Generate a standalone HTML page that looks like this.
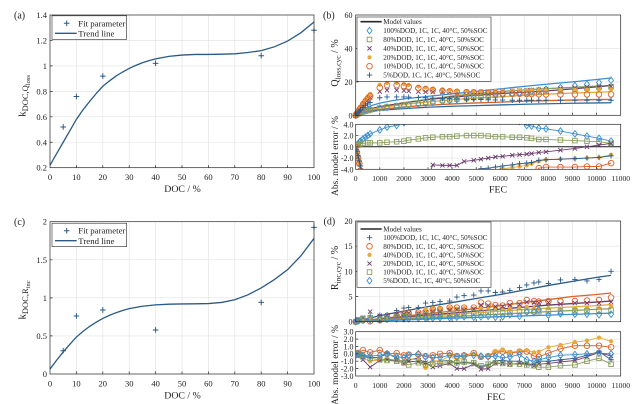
<!DOCTYPE html>
<html><head><meta charset="utf-8"><style>
html,body{margin:0;padding:0;background:#fff;}
svg{display:block;}
text{font-family:"Liberation Serif",serif;fill:#222;}
</style></head><body>
<svg width="640" height="404" viewBox="0 0 640 404" xmlns="http://www.w3.org/2000/svg">
<defs>
<path id="s-di" d="M0-3.3L2.5 0 0 3.3-2.5 0Z" fill="none" stroke="#3a8fd0" stroke-width=".9"/>
<rect id="s-sq" x="-2.3" y="-2.3" width="4.6" height="4.6" fill="none" stroke="#8a9e5e" stroke-width=".9"/>
<path id="s-x" d="M-2.1-2.1L2.1 2.1M-2.1 2.1L2.1-2.1" stroke="#6b3d6e" stroke-width=".9"/>
<circle id="s-dt" r="2.1" fill="#eba83a"/>
<circle id="s-ci" r="2.8" fill="none" stroke="#d9622b" stroke-width=".9"/>
<path id="s-pl" d="M-2.7 0H2.7M0-2.7V2.7" stroke="#2b5b88" stroke-width=".9"/>
<path id="s-pa" d="M-2.8 0H2.8M0-2.8V2.8" stroke="#2a5a85" stroke-width="1"/>

<marker id="a-pa" markerUnits="userSpaceOnUse" overflow="visible" markerWidth="1" markerHeight="1"><g transform="scale(.378788,-.0078585)"><use href="#s-pa"/></g></marker>
<marker id="c-pa" markerUnits="userSpaceOnUse" overflow="visible" markerWidth="1" markerHeight="1"><g transform="scale(.378788,-.013132)"><use href="#s-pa"/></g></marker>

<marker id="bu-di" markerUnits="userSpaceOnUse" overflow="visible" markerWidth="1" markerHeight="1"><g transform="scale(.041511,-.598086)"><use href="#s-di"/></g></marker>
<marker id="bu-sq" markerUnits="userSpaceOnUse" overflow="visible" markerWidth="1" markerHeight="1"><g transform="scale(.041511,-.598086)"><use href="#s-sq"/></g></marker>
<marker id="bu-x" markerUnits="userSpaceOnUse" overflow="visible" markerWidth="1" markerHeight="1"><g transform="scale(.041511,-.598086)"><use href="#s-x"/></g></marker>
<marker id="bu-dt" markerUnits="userSpaceOnUse" overflow="visible" markerWidth="1" markerHeight="1"><g transform="scale(.041511,-.598086)"><use href="#s-dt"/></g></marker>
<marker id="bu-ci" markerUnits="userSpaceOnUse" overflow="visible" markerWidth="1" markerHeight="1"><g transform="scale(.041511,-.598086)"><use href="#s-ci"/></g></marker>
<marker id="bu-pl" markerUnits="userSpaceOnUse" overflow="visible" markerWidth="1" markerHeight="1"><g transform="scale(.041511,-.598086)"><use href="#s-pl"/></g></marker>

<marker id="bl-di" markerUnits="userSpaceOnUse" overflow="visible" markerWidth="1" markerHeight="1"><g transform="scale(.041511,-.177778)"><use href="#s-di"/></g></marker>
<marker id="bl-sq" markerUnits="userSpaceOnUse" overflow="visible" markerWidth="1" markerHeight="1"><g transform="scale(.041511,-.177778)"><use href="#s-sq"/></g></marker>
<marker id="bl-x" markerUnits="userSpaceOnUse" overflow="visible" markerWidth="1" markerHeight="1"><g transform="scale(.041511,-.177778)"><use href="#s-x"/></g></marker>
<marker id="bl-dt" markerUnits="userSpaceOnUse" overflow="visible" markerWidth="1" markerHeight="1"><g transform="scale(.041511,-.177778)"><use href="#s-dt"/></g></marker>
<marker id="bl-ci" markerUnits="userSpaceOnUse" overflow="visible" markerWidth="1" markerHeight="1"><g transform="scale(.041511,-.177778)"><use href="#s-ci"/></g></marker>
<marker id="bl-pl" markerUnits="userSpaceOnUse" overflow="visible" markerWidth="1" markerHeight="1"><g transform="scale(.041511,-.177778)"><use href="#s-pl"/></g></marker>

<marker id="du-di" markerUnits="userSpaceOnUse" overflow="visible" markerWidth="1" markerHeight="1"><g transform="scale(.041511,-.19861)"><use href="#s-di"/></g></marker>
<marker id="du-sq" markerUnits="userSpaceOnUse" overflow="visible" markerWidth="1" markerHeight="1"><g transform="scale(.041511,-.19861)"><use href="#s-sq"/></g></marker>
<marker id="du-x" markerUnits="userSpaceOnUse" overflow="visible" markerWidth="1" markerHeight="1"><g transform="scale(.041511,-.19861)"><use href="#s-x"/></g></marker>
<marker id="du-dt" markerUnits="userSpaceOnUse" overflow="visible" markerWidth="1" markerHeight="1"><g transform="scale(.041511,-.19861)"><use href="#s-dt"/></g></marker>
<marker id="du-ci" markerUnits="userSpaceOnUse" overflow="visible" markerWidth="1" markerHeight="1"><g transform="scale(.041511,-.19861)"><use href="#s-ci"/></g></marker>
<marker id="du-pl" markerUnits="userSpaceOnUse" overflow="visible" markerWidth="1" markerHeight="1"><g transform="scale(.041511,-.19861)"><use href="#s-pl"/></g></marker>

<marker id="dl-di" markerUnits="userSpaceOnUse" overflow="visible" markerWidth="1" markerHeight="1"><g transform="scale(.041511,-.135446)"><use href="#s-di"/></g></marker>
<marker id="dl-sq" markerUnits="userSpaceOnUse" overflow="visible" markerWidth="1" markerHeight="1"><g transform="scale(.041511,-.135446)"><use href="#s-sq"/></g></marker>
<marker id="dl-x" markerUnits="userSpaceOnUse" overflow="visible" markerWidth="1" markerHeight="1"><g transform="scale(.041511,-.135446)"><use href="#s-x"/></g></marker>
<marker id="dl-dt" markerUnits="userSpaceOnUse" overflow="visible" markerWidth="1" markerHeight="1"><g transform="scale(.041511,-.135446)"><use href="#s-dt"/></g></marker>
<marker id="dl-ci" markerUnits="userSpaceOnUse" overflow="visible" markerWidth="1" markerHeight="1"><g transform="scale(.041511,-.135446)"><use href="#s-ci"/></g></marker>
<marker id="dl-pl" markerUnits="userSpaceOnUse" overflow="visible" markerWidth="1" markerHeight="1"><g transform="scale(.041511,-.135446)"><use href="#s-pl"/></g></marker>

<clipPath id="cbl"><rect x="355.7" y="124.3" width="265" height="45"/></clipPath>
<clipPath id="cdl"><rect x="355.7" y="331.7" width="265" height="44.3"/></clipPath>
</defs>

<!-- ================= GRIDS ================= -->
<g stroke="#e2e2e2" stroke-width=".6" fill="none">
<path d="M76.4 15V167.7M102.8 15V167.7M129.2 15V167.7M155.6 15V167.7M182 15V167.7M208.4 15V167.7M234.8 15V167.7M261.2 15V167.7M287.6 15V167.7M50 142.25H314M50 116.8H314M50 91.35H314M50 65.9H314M50 40.45H314"/>
<path d="M76.4 221.7V374M102.8 221.7V374M129.2 221.7V374M155.6 221.7V374M182 221.7V374M208.4 221.7V374M234.8 221.7V374M261.2 221.7V374M287.6 221.7V374M50 335.9H314M50 297.85H314M50 259.8H314"/>
<path d="M379.8 15V115.3M403.9 15V115.3M428 15V115.3M452.1 15V115.3M476.2 15V115.3M500.2 15V115.3M524.3 15V115.3M548.4 15V115.3M572.5 15V115.3M596.6 15V115.3M355.7 81.9H620.7M355.7 48.4H620.7"/>
<path d="M379.8 124.3V169.3M403.9 124.3V169.3M428 124.3V169.3M452.1 124.3V169.3M476.2 124.3V169.3M500.2 124.3V169.3M524.3 124.3V169.3M548.4 124.3V169.3M572.5 124.3V169.3M596.6 124.3V169.3M355.7 135.55H620.7M355.7 158.05H620.7"/>
<path d="M379.8 221V321.7M403.9 221V321.7M428 221V321.7M452.1 221V321.7M476.2 221V321.7M500.2 221V321.7M524.3 221V321.7M548.4 221V321.7M572.5 221V321.7M596.6 221V321.7M355.7 296.5H620.7M355.7 271.35H620.7M355.7 246.2H620.7"/>
<path d="M379.8 331.7V376M403.9 331.7V376M428 331.7V376M452.1 331.7V376M476.2 331.7V376M500.2 331.7V376M524.3 331.7V376M548.4 331.7V376M572.5 331.7V376M596.6 331.7V376M355.7 339.1H620.7M355.7 346.5H620.7M355.7 353.85H620.7M355.7 361.2H620.7M355.7 368.6H620.7"/>
</g>

<!-- ================= PANEL (a) ================= -->
<g transform="translate(50,193.15) scale(2.64,-127.25)">
<polyline fill="none" stroke="#2a5a85" stroke-width="1.3" vector-effect="non-scaling-stroke" points="0,0.22 2.5,0.31 5,0.40 7.5,0.49 10,0.58 12.5,0.655 15,0.72 17.5,0.783 20,0.84 22.5,0.882 25,0.92 27.5,0.952 30,0.98 32.5,1.004 35,1.025 37.5,1.041 40,1.055 45,1.075 50,1.085 55,1.09 60,1.09 65,1.092 70,1.095 75,1.105 80,1.12 85,1.15 90,1.195 95,1.26 100,1.345"/>
<polyline fill="none" stroke="none" marker-start="url(#a-pa)" marker-mid="url(#a-pa)" marker-end="url(#a-pa)" points="5,0.52 10,0.76 20,0.92 40,1.02 80,1.08 100,1.28"/>
</g>

<!-- ================= PANEL (c) ================= -->
<g transform="translate(50,374) scale(2.64,-76.15)">
<polyline fill="none" stroke="#2a5a85" stroke-width="1.3" vector-effect="non-scaling-stroke" points="0,0.065 2.5,0.18 5,0.29 7.5,0.39 10,0.485 12.5,0.56 15,0.625 17.5,0.68 20,0.73 22.5,0.77 25,0.805 27.5,0.834 30,0.858 35,0.89 40,0.908 45,0.917 50,0.92 55,0.922 60,0.925 65,0.94 70,0.975 75,1.04 80,1.13 85,1.24 90,1.37 95,1.55 100,1.78"/>
<polyline fill="none" stroke="none" marker-start="url(#c-pa)" marker-mid="url(#c-pa)" marker-end="url(#c-pa)" points="5,0.306 10,0.762 20,0.84 40,0.578 80,0.94 100,1.926"/>
</g>

<!-- ================= PANEL (b) upper ================= -->
<g transform="translate(355.7,115.3) scale(24.09,-1.672)">
<g fill="none" stroke-width="1.3">
<polyline stroke="#3a8fd0" vector-effect="non-scaling-stroke" points="0,0 0.1,1.8 0.2,2.8 0.3,3.6 0.5,5 0.7,6 1,7.3 1.5,8.7 2,9.8 3,11.3 4,12.8 5,14.3 6,15.8 7,17.3 8,18.7 9,20 10,21.4 10.6,22.3"/>
<polyline stroke="#8a9e5e" vector-effect="non-scaling-stroke" points="0,0 0.1,1.2 0.2,1.9 0.5,3.5 1,5 2,7.3 3,9.5 4,11.5 5,13 6,14.2 7,15.2 8,16 9,16.7 10,17.4 10.6,17.7"/>
<polyline stroke="#6b3d6e" vector-effect="non-scaling-stroke" points="0,0 0.1,1.2 0.2,1.9 0.5,3.5 1,5.2 2,7.5 3,9.5 4,10.9 5,12 6,13 7,13.8 8,14.7 9,15.8 10,17 10.6,17.8"/>
<polyline stroke="#eba83a" vector-effect="non-scaling-stroke" points="0,0 0.1,1.1 0.2,1.7 0.5,3 1,4.5 2,6.5 3,8 4,9.3 5,10.3 6,11.1 7,11.9 8,12.7 9,13.3 10,13.8 10.6,14.1"/>
<polyline stroke="#d9622b" vector-effect="non-scaling-stroke" points="0,0 0.1,0.9 0.2,1.4 0.5,2.4 1,3.5 2,5 3,6 4,6.8 5,7.4 6,7.9 7,8.4 8,8.8 9,9.1 10,9.4 10.6,9.5"/>
<polyline stroke="#2b6aa3" vector-effect="non-scaling-stroke" points="0,0 0.1,0.8 0.2,1.2 0.5,2 1,3 2,4 3,4.8 4,5.4 5,5.8 6,6.2 7,6.6 8,6.9 9,7.2 10,7.4 10.6,7.5"/>
</g>
<g fill="none" stroke="none">
<polyline marker-start="url(#bu-di)" marker-mid="url(#bu-di)" marker-end="url(#bu-di)" points="0,0 0.05,0.8 0.1,1.3 0.15,1.7 0.2,2 0.3,2.4 0.4,2.8 0.5,3.1 0.6,3.4 1,4.3 1.3,4.8 1.7,5.4 2,5.9 2.2,6.2 2.6,6.8 2.9,7.3 3.2,7.8 3.6,8.4 3.9,8.9 4.2,9.4 4.6,10 4.9,10.5 5.2,11 5.5,11.5 5.8,12 6.1,12.5 6.5,13 6.8,13.5 7.1,14 7.3,14.4 7.6,14.9 7.9,15.4 8.5,16.5 9.1,17.7 9.6,18.6 10.1,19.6 10.6,20.9"/>
<polyline marker-start="url(#bu-sq)" marker-mid="url(#bu-sq)" marker-end="url(#bu-sq)" points="0,0 0.05,0.5 0.1,1 0.15,1.3 0.2,1.6 0.3,2.1 0.4,2.5 0.5,2.9 0.6,3.2 1,4.3 1.3,5 1.7,5.7 2,6.3 2.2,6.6 2.6,7.3 2.9,7.8 3.2,8.3 3.6,8.9 3.9,9.3 4.2,9.8 4.6,10.3 4.9,10.7 5.2,11.1 5.5,11.5 5.8,11.9 6.1,12.3 6.5,12.8 6.8,13.1 7.1,13.5 7.3,13.7 7.6,14.1 7.9,14.4 8.5,15 9.1,15.6 9.6,16.1 10.1,16.6 10.6,17.1"/>
<polyline marker-start="url(#bu-x)" marker-mid="url(#bu-x)" marker-end="url(#bu-x)" points="0,0 0.05,1 0.1,2 0.15,3 0.2,4 0.3,5.8 0.4,7.5 0.5,9 0.6,10.5 1,14.2 1.3,15 1.7,15 2,14.8 2.2,14.5 2.6,14.2 2.9,14 3.2,13.9 3.6,13.9 3.9,13.9 4.2,14 4.6,14 4.9,14 5.2,14.1 5.5,14.2 5.8,14.3 6.1,14.4 6.5,14.6 6.8,14.8 7.1,15 7.3,15.1 7.6,15.3 7.9,15.5 8.5,16 9.1,16.4 9.6,16.8 10.1,17.1 10.6,17.3"/>
<polyline marker-start="url(#bu-dt)" marker-mid="url(#bu-dt)" marker-end="url(#bu-dt)" points="0,0 0.05,1.3 0.1,2.6 0.15,3.9 0.2,5.2 0.3,7.5 0.4,9.5 0.5,11.3 0.6,12.8 1,18.3 1.3,19.4 1.7,19.3 2,18.7 2.2,18.2 2.6,17.2 2.9,16.6 3.2,16 3.6,15.5 3.9,15.1 4.2,14.8 4.6,14.6 4.9,14.5 5.2,14.5 5.5,14.5 5.8,14.6 6.1,14.7 6.5,14.8 6.8,14.9 7.1,15 7.3,15 7.6,15.1 7.9,15.1 8.5,15.2 9.1,15.3 9.6,15.4 10.1,15.5 10.6,15.5"/>
<polyline marker-start="url(#bu-ci)" marker-mid="url(#bu-ci)" marker-end="url(#bu-ci)" points="0,0 0.05,1.1 0.1,2.2 0.15,3.3 0.2,4.4 0.3,6.5 0.4,8.3 0.5,10 0.6,11.5 1,16.5 1.3,18 1.7,18 2,17.5 2.2,17 2.6,16.2 2.9,15.6 3.2,15.1 3.6,14.6 3.9,14.3 4.2,14 4.6,13.8 4.9,13.6 5.2,13.4 5.5,13.3 5.8,13.2 6.1,13.1 6.5,13 6.8,12.9 7.1,12.8 7.3,12.7 7.6,12.6 7.9,12.5 8.5,12.5 9.1,12.5 9.6,12.5 10.1,12.5 10.6,12.5"/>
<polyline marker-start="url(#bu-pl)" marker-mid="url(#bu-pl)" marker-end="url(#bu-pl)" points="0,0 0.05,0.9 0.1,1.8 0.15,2.6 0.2,3.3 0.3,4.6 0.4,5.8 0.5,6.8 0.6,7.7 1,10.5 1.3,11 1.7,11 2,11 2.2,10.9 2.6,10.7 2.9,10.5 3.2,10.3 3.6,10.1 3.9,10 4.2,9.8 4.6,9.6 4.9,9.5 5.2,9.4 5.5,9.3 5.8,9.2 6.1,9.1 6.5,9 6.8,9 7.1,9 7.3,9 7.6,9 7.9,9 8.5,9 9.1,9 9.6,9 10.1,9 10.6,9"/>
</g>
</g>

<!-- ================= PANEL (b) lower ================= -->
<line x1="355.7" y1="146.8" x2="620.7" y2="146.8" stroke="#1a1a1a" stroke-width="1"/>
<g clip-path="url(#cbl)">
<g transform="translate(355.7,146.8) scale(24.09,-5.625)" fill="none" stroke-width=".9">
<polyline stroke="#3a8fd0" vector-effect="non-scaling-stroke" marker-start="url(#bl-di)" marker-mid="url(#bl-di)" marker-end="url(#bl-di)" points="0,0 0.05,0.3 0.1,0.6 0.15,0.8 0.2,1 0.3,1.4 0.4,1.7 0.5,2 0.6,2.3 1,3 1.3,3.5 1.7,3.8 2,4.3 2.6,4.8 4,5 6,4.8 6.8,4.5 7.1,3.8 7.3,3.7 7.6,3.3 7.9,3.2 8.5,2.8 9.1,2.3 9.6,1.9 10.1,1.5 10.6,1"/>
<polyline stroke="#8a9e5e" vector-effect="non-scaling-stroke" marker-start="url(#bl-sq)" marker-mid="url(#bl-sq)" marker-end="url(#bl-sq)" points="0,0 0.1,0.3 0.2,0.5 0.3,0.6 0.5,0.7 0.6,0.7 1,0.7 1.3,0.8 1.7,0.9 2,1 2.2,1.2 2.6,1.4 2.9,1.6 3.2,1.7 3.6,1.8 3.9,1.8 4.2,1.9 4.6,2 4.9,2 5.2,2 5.5,1.9 5.8,1.8 6.1,1.8 6.5,1.7 6.8,1.7 7.1,1.6 7.3,1.5 7.6,1.3 7.9,1.3 8.5,1.2 9.1,1.1 9.6,1 10.1,0.9 10.6,0.6"/>
<polyline stroke="#6b3d6e" vector-effect="non-scaling-stroke" marker-start="url(#bl-x)" marker-mid="url(#bl-x)" marker-end="url(#bl-x)" points="0,0 0.05,-0.8 0.1,-1.8 0.15,-3 0.2,-4.2 0.3,-6 0.6,-8 1.3,-9 2.2,-8 2.9,-6.5 3.2,-3.2 3.6,-3.3 3.9,-3.3 4.2,-3.3 4.5,-2.6 4.9,-2.4 5.2,-2.2 5.5,-2 5.8,-1.8 6.1,-1.7 6.5,-1.5 6.8,-1.4 7.1,-1.3 7.3,-1.2 7.6,-1 7.9,-0.9 8.5,-0.6 9.1,-0.3 9.6,0 10.1,0.3 10.6,0.6"/>
<polyline stroke="#eba83a" vector-effect="non-scaling-stroke" marker-start="url(#bl-dt)" marker-mid="url(#bl-dt)" marker-end="url(#bl-dt)" points="0,0 0.05,-1 0.1,-2 0.15,-3 0.2,-4 0.3,-6 1,-9 3,-8 5.5,-5.2 5.8,-4.4 6.1,-3.9 6.5,-3.7 6.8,-3.5 7.1,-3.3 7.3,-3 7.6,-2.6 7.9,-2.3 8.5,-2.2 9.1,-2.1 9.6,-2 10.1,-1.9 10.6,-1.4"/>
<polyline stroke="#d9622b" vector-effect="non-scaling-stroke" marker-start="url(#bl-ci)" marker-mid="url(#bl-ci)" marker-end="url(#bl-ci)" points="0,0 0.05,-1 0.1,-2 0.15,-3 0.2,-4.2 0.3,-6 1,-10 5,-8 7.3,-5 7.6,-3.8 7.9,-3.6 8.5,-3.6 9.1,-3.6 9.6,-3.5 10.1,-3.5 10.6,-2.9"/>
<polyline stroke="#2b5b88" vector-effect="non-scaling-stroke" marker-start="url(#bl-pl)" marker-mid="url(#bl-pl)" marker-end="url(#bl-pl)" points="0,0 0.05,-0.8 0.1,-1.6 0.15,-2.5 0.2,-3.4 0.3,-5 1,-8 4.9,-4.5 5.2,-3.9 5.5,-3.8 5.8,-3.6 6.1,-3.4 6.5,-3.2 6.8,-3 7.1,-2.9 7.3,-2.8 7.6,-2.4 7.9,-2.3 8.5,-2.2 9.1,-2.1 9.6,-2 10.1,-1.9 10.6,-1.6"/>
</g>
</g>

<!-- ================= PANEL (d) upper ================= -->
<g transform="translate(355.7,321.7) scale(24.09,-5.035)">
<g fill="none" stroke-width="1.3">
<polyline stroke="#2b5b88" vector-effect="non-scaling-stroke" points="0,0 1,1.2 2,2.1 3,3 4,3.8 5,4.6 6,5.4 7,6.3 8,7.2 9,8 10,8.8 10.6,9.2"/>
<polyline stroke="#d9622b" vector-effect="non-scaling-stroke" points="0,0 1,0.6 2,1.1 3,1.6 4,2.1 5,2.6 6,3.2 7,3.8 8,4.4 9,5 10,5.4 10.6,5.7"/>
<polyline stroke="#6b3d6e" vector-effect="non-scaling-stroke" points="0,0 2,0.9 4,1.7 6,2.5 8,3.3 10,3.9 10.6,4.1"/>
<polyline stroke="#eba83a" vector-effect="non-scaling-stroke" points="0,0 2,0.7 4,1.4 6,2.1 8,2.7 10,3.2 10.6,3.4"/>
<polyline stroke="#8a9e5e" vector-effect="non-scaling-stroke" points="0,0 2,0.5 4,1 6,1.5 8,2 10,2.45 10.6,2.6"/>
<polyline stroke="#3a8fd0" vector-effect="non-scaling-stroke" points="0,0 2,0.35 4,0.7 6,1 8,1.3 10,1.6 10.6,1.7"/>
</g>
<g fill="none" stroke="none">
<polyline marker-start="url(#du-pl)" marker-mid="url(#du-pl)" marker-end="url(#du-pl)" points="0,0 .1,.3 .2,.5 .3,.7 .6,1.2 1,1.3 1.3,1.4 1.7,2.2 2,2.7 2.2,2.8 2.6,2.8 2.9,3.7 3.2,3.8 3.5,4 3.9,4.1 4.2,4.9 4.5,5.2 4.9,5.3 5.2,6.1 5.5,6.1 5.8,5.8 6.1,5.9 6.4,6.2 6.8,6.8 7.1,7.3 7.4,7.7 7.6,7.9 8,7.6 8.5,8.3 9.1,8.4 9.6,8.1 10.1,8.4 10.6,10"/>
<polyline marker-start="url(#du-ci)" marker-mid="url(#du-ci)" marker-end="url(#du-ci)" points="0,0 .1,.2 .3,.3 .6,.1 1,.3 1.3,.9 1.7,1.2 2,1.6 2.2,1.7 2.6,1.8 2.9,2 3.2,2.5 3.5,2.5 3.9,2.8 4.2,2.8 4.5,2.8 4.9,2.8 5.2,3.8 5.5,3.6 5.8,3.3 6.1,3.2 6.4,3.7 6.8,3.7 7.1,4.3 7.4,4.1 7.6,4 8,4.1 8.5,4 9.1,4.1 9.6,4.2 10.1,4.3 10.6,4.8"/>
<polyline marker-start="url(#du-dt)" marker-mid="url(#du-dt)" marker-end="url(#du-dt)" points="0,0 .1,.3 .3,.6 .6,.8 1,.8 1.3,1 1.7,1.3 2,1.5 2.2,1.6 2.6,1.7 2.9,2.5 3.2,2.6 3.5,2.6 3.9,2.7 4.2,2.6 4.5,2.7 4.9,2.6 5.2,2.8 5.5,2.8 5.8,2.7 6.1,2.6 6.4,2.8 6.8,2.9 7.1,3 7.4,2.7 7.6,2.6 8,2.7 8.5,2.6 9.1,2.6 9.6,2.7 10.1,2.7 10.6,3.1"/>
<polyline marker-start="url(#du-x)" marker-mid="url(#du-x)" marker-end="url(#du-x)" points="0,0 .1,.5 .3,.8 .6,2 1,1.2 1.3,1.3 1.7,1.5 2,1.5 2.2,1.7 2.6,1.6 2.9,1.8 3.2,2 3.5,2 3.9,2.3 4.2,2.4 4.5,2.3 4.9,2.5 5.2,3.3 5.5,3.2 5.8,3 6.1,3 6.4,3.3 6.8,3.4 7.1,3.9 7.4,3.8 7.6,3.7 8,3.8 8.5,3.5 9.1,3.7 9.6,3.7 10.1,3.7 10.6,3.9"/>
<polyline marker-start="url(#du-sq)" marker-mid="url(#du-sq)" marker-end="url(#du-sq)" points="0,0 .1,.3 .3,.6 .6,.7 1,.6 1.3,.7 1.7,.9 2,1 2.2,1.1 2.6,1.2 2.9,1.4 3.2,1.5 3.5,1.5 3.9,1.6 4.2,1.7 4.5,1.7 4.9,1.8 5.2,1.9 5.5,1.9 5.8,1.8 6.1,1.8 6.4,1.9 6.8,2 7.1,2.1 7.4,2 7.6,2 8,2.1 8.5,2.1 9.1,2.2 9.6,2.2 10.1,2.3 10.6,2.3"/>
<polyline marker-start="url(#du-di)" marker-mid="url(#du-di)" marker-end="url(#du-di)" points="0,0 .1,.2 .3,.3 .6,.4 1,.4 1.3,.5 1.7,.6 2,.6 2.2,.6 2.6,.7 2.9,.7 3.2,.7 3.5,.8 3.9,.8 4.2,.9 4.5,1 4.9,.9 5.2,1 5.5,1.1 5.8,.9 6.1,1 6.4,1.4 6.8,1.1 7.1,1.9 7.4,1.9 7.6,2.4 8,1.3 8.5,1.6 9.1,1.5 9.6,1.5 10.1,1.4 10.6,1.5"/>
</g>
</g>

<!-- ================= PANEL (d) lower ================= -->
<g clip-path="url(#cdl)">
<g transform="translate(355.7,353.85) scale(24.09,-7.383)" fill="none" stroke-width=".9">
<polyline stroke="#2b5b88" vector-effect="non-scaling-stroke" marker-start="url(#dl-pl)" marker-mid="url(#dl-pl)" marker-end="url(#dl-pl)" points="0,0 .1,.2 .3,-.3 .6,-.5 1,-.5 1.3,.1 1.7,-.6 2,-1.2 2.2,-.8 2.6,-.6 2.9,-1.3 3.2,-1 3.5,-1 3.9,-.9 4.2,-1.3 4.5,-1.2 4.9,-1.3 5.2,-1.8 5.5,-1.5 5.8,-.9 6.1,-.9 6.4,-1 6.8,-1 7.1,-1.4 7.4,-1.4 7.6,-1 8,-1 8.5,-.8 9.1,-.6 9.6,-.2 10.1,.3 10.6,-.8"/>
<polyline stroke="#d9622b" vector-effect="non-scaling-stroke" marker-start="url(#dl-ci)" marker-mid="url(#dl-ci)" marker-end="url(#dl-ci)" points="0,0 .1,.1 .3,.5 .6,.2 1,.5 1.3,0 1.7,.1 2,-.2 2.2,-.1 2.6,-.1 2.9,-.3 3.2,-.2 3.5,0 3.9,.1 4.2,-.3 4.5,-.2 4.9,.1 5.2,-.4 5.5,-.3 5.8,.2 6.1,.3 6.4,.1 6.8,.3 7.1,.3 7.4,-.3 7.6,-.4 8,.1 8.5,.7 9.1,1.1 9.6,1.1 10.1,1.1 10.6,.9"/>
<polyline stroke="#eba83a" vector-effect="non-scaling-stroke" marker-start="url(#dl-dt)" marker-mid="url(#dl-dt)" marker-end="url(#dl-dt)" points="0,0 .1,-.2 .3,-.6 .6,-1 1,-.8 1.3,-.7 1.7,-.9 2,-1 2.2,-.7 2.6,-.8 2.9,-1.9 3.2,-1 3.5,-1 3.9,-.3 4.2,-.8 4.5,-.5 4.9,0 5.2,-.5 5.5,-.2 5.8,.4 6.1,.6 6.4,.2 6.8,.4 7.1,.5 7.4,.2 7.6,.3 8,.9 8.5,1.2 9.1,1.6 9.6,1.8 10.1,2.2 10.6,1.7"/>
<polyline stroke="#6b3d6e" vector-effect="non-scaling-stroke" marker-start="url(#dl-x)" marker-mid="url(#dl-x)" marker-end="url(#dl-x)" points="0,0 .1,-.3 .3,-.8 .6,-1.8 1,-.9 1.3,-.8 1.7,-.9 2,-1.3 2.2,-1 2.6,-1.1 2.9,-1.2 3.2,-1.8 3.5,-1.6 3.9,-1.3 4.2,-2 4.5,-2 4.9,-1.4 5.2,-2.1 5.5,-2 5.8,-1.3 6.1,-1.3 6.4,-1.4 6.8,-1.3 7.1,-1.3 7.4,-1.6 7.6,-1.4 8,-1.3 8.5,-1.1 9.1,-.9 9.6,-.4 10.1,.2 10.6,-.3"/>
<polyline stroke="#8a9e5e" vector-effect="non-scaling-stroke" marker-start="url(#dl-sq)" marker-mid="url(#dl-sq)" marker-end="url(#dl-sq)" points="0,0 .1,-.2 .3,-.4 .6,-.6 1,-.8 1.3,-.9 1.7,-1 2,-1.2 2.2,-1.5 2.6,-1.2 2.9,-1.5 3.2,-1.4 3.5,-1.3 3.9,-1.2 4.2,-1.2 4.5,-1.1 4.9,-1.2 5.2,-1.6 5.5,-1.4 5.8,-1.2 6.1,-1.3 6.4,-1.4 6.8,-1.4 7.1,-1.5 7.4,-1.6 7.6,-1.8 8,-1.8 8.5,-1.6 9.1,-1.5 9.6,-1 10.1,-.6 10.6,-1.4"/>
<polyline stroke="#3a8fd0" vector-effect="non-scaling-stroke" marker-start="url(#dl-di)" marker-mid="url(#dl-di)" marker-end="url(#dl-di)" points="0,0 .1,0 .3,-.2 .6,-.3 1,-.2 1.3,0 1.7,-.4 2,-.5 2.2,-.2 2.6,0 2.9,-.4 3.2,-.5 3.5,-.5 3.9,-.2 4.2,-.4 4.5,-.3 4.9,-.2 5.2,-.3 5.5,-.4 5.8,-.3 6.1,-.5 6.4,-.4 6.8,-.1 7.1,-.8 7.4,-1 7.6,-.8 8,-.5 8.5,-.2 9.1,-.1 9.6,0 10.1,.1 10.6,0"/>
</g>
</g>

<!-- ================= AXES BOXES & TICKS ================= -->
<g fill="none" stroke="#262626" stroke-width=".7">
<rect x="50" y="15" width="264" height="152.7"/>
<rect x="50" y="221.7" width="264" height="152.3"/>
<rect x="355.7" y="15" width="265" height="100.3"/>
<rect x="355.7" y="124.3" width="265" height="45"/>
<rect x="355.7" y="221" width="265" height="100.7"/>
<rect x="355.7" y="331.7" width="265" height="44.3"/>
<path d="M76.4 167.7v-2.6M102.8 167.7v-2.6M129.2 167.7v-2.6M155.6 167.7v-2.6M182 167.7v-2.6M208.4 167.7v-2.6M234.8 167.7v-2.6M261.2 167.7v-2.6M287.6 167.7v-2.6M50 142.25h2.6M50 116.8h2.6M50 91.35h2.6M50 65.9h2.6M50 40.45h2.6"/>
<path d="M76.4 374v-2.6M102.8 374v-2.6M129.2 374v-2.6M155.6 374v-2.6M182 374v-2.6M208.4 374v-2.6M234.8 374v-2.6M261.2 374v-2.6M287.6 374v-2.6M50 335.9h2.6M50 297.85h2.6M50 259.8h2.6"/>
<path d="M379.8 115.3v-2.6M403.9 115.3v-2.6M428 115.3v-2.6M452.1 115.3v-2.6M476.2 115.3v-2.6M500.2 115.3v-2.6M524.3 115.3v-2.6M548.4 115.3v-2.6M572.5 115.3v-2.6M596.6 115.3v-2.6M355.7 81.9h2.6M355.7 48.4h2.6"/>
<path d="M379.8 169.3v-2M403.9 169.3v-2M428 169.3v-2M452.1 169.3v-2M476.2 169.3v-2M500.2 169.3v-2M524.3 169.3v-2M548.4 169.3v-2M572.5 169.3v-2M596.6 169.3v-2M355.7 135.55h2.6M355.7 146.8h2.6M355.7 158.05h2.6"/>
<path d="M379.8 321.7v-2.6M403.9 321.7v-2.6M428 321.7v-2.6M452.1 321.7v-2.6M476.2 321.7v-2.6M500.2 321.7v-2.6M524.3 321.7v-2.6M548.4 321.7v-2.6M572.5 321.7v-2.6M596.6 321.7v-2.6M355.7 296.5h2.6M355.7 271.35h2.6M355.7 246.2h2.6"/>
<path d="M379.8 376v-2M403.9 376v-2M428 376v-2M452.1 376v-2M476.2 376v-2M500.2 376v-2M524.3 376v-2M548.4 376v-2M572.5 376v-2M596.6 376v-2M355.7 339.1h2.6M355.7 346.5h2.6M355.7 353.85h2.6M355.7 361.2h2.6M355.7 368.6h2.6"/>
</g>

<!-- ================= LEGENDS ================= -->
<rect x="52" y="15.8" width="74.7" height="23.5" fill="#fff" stroke="#262626" stroke-width=".6"/>
<use href="#s-pa" x="66.7" y="23.3"/>
<line x1="55" y1="33.3" x2="76.7" y2="33.3" stroke="#2a5a85" stroke-width="1.3"/>
<text x="78.3" y="26.3" font-size="8.8">Fit parameter</text>
<text x="78.3" y="36.4" font-size="8.8">Trend line</text>

<rect x="52" y="223.2" width="74.7" height="23.5" fill="#fff" stroke="#262626" stroke-width=".6"/>
<use href="#s-pa" x="66.7" y="230.7"/>
<line x1="55" y1="240.7" x2="76.7" y2="240.7" stroke="#2a5a85" stroke-width="1.3"/>
<text x="78.3" y="233.7" font-size="8.8">Fit parameter</text>
<text x="78.3" y="243.8" font-size="8.8">Trend line</text>

<rect x="357" y="17" width="134" height="64.3" fill="#fff" stroke="#262626" stroke-width=".6"/>
<line x1="360.5" y1="21.7" x2="381.7" y2="21.7" stroke="#262626" stroke-width="1.6"/>
<use href="#s-di" x="369.5" y="30.6"/>
<use href="#s-sq" x="369.5" y="39.5"/>
<use href="#s-x" x="369.5" y="48.4"/>
<use href="#s-dt" x="369.5" y="57.3"/>
<use href="#s-ci" x="369.5" y="66.2"/>
<use href="#s-pl" x="369.5" y="75.1"/>
<g font-size="7.1">
<text x="383.3" y="24.2">Model values</text>
<text x="383.3" y="33.1">100%DOD, 1C, 1C, 40°C, 50%SOC</text>
<text x="383.3" y="42">80%DOD, 1C, 1C, 40°C, 50%SOC</text>
<text x="383.3" y="50.9">40%DOD, 1C, 1C, 40°C, 50%SOC</text>
<text x="383.3" y="59.8">20%DOD, 1C, 1C, 40°C, 50%SOC</text>
<text x="383.3" y="68.7">10%DOD, 1C, 1C, 40°C, 50%SOC</text>
<text x="383.3" y="77.6">5%DOD, 1C, 1C, 40°C, 50%SOC</text>
</g>

<rect x="357" y="222" width="134" height="65.3" fill="#fff" stroke="#262626" stroke-width=".6"/>
<line x1="360.5" y1="229" x2="381.7" y2="229" stroke="#262626" stroke-width="1.6"/>
<use href="#s-pl" x="369.5" y="237.7"/>
<use href="#s-ci" x="369.5" y="246.3"/>
<use href="#s-dt" x="369.5" y="254.9"/>
<use href="#s-x" x="369.5" y="263.5"/>
<use href="#s-sq" x="369.5" y="272.1"/>
<use href="#s-di" x="369.5" y="280.7"/>
<g font-size="7.1">
<text x="383.3" y="231.5">Model values</text>
<text x="383.3" y="240.2">100%DOD, 1C, 1C, 40°C, 50%SOC</text>
<text x="383.3" y="248.8">80%DOD, 1C, 1C, 40°C, 50%SOC</text>
<text x="383.3" y="257.4">40%DOD, 1C, 1C, 40°C, 50%SOC</text>
<text x="383.3" y="266">20%DOD, 1C, 1C, 40°C, 50%SOC</text>
<text x="383.3" y="274.6">10%DOD, 1C, 1C, 40°C, 50%SOC</text>
<text x="383.3" y="283.2">5%DOD, 1C, 1C, 40°C, 50%SOC</text>
</g>

<!-- ================= TICK LABELS ================= -->
<g font-size="8.5" text-anchor="end">
<text x="47" y="170.7">0.2</text><text x="47" y="145.25">0.4</text><text x="47" y="119.8">0.6</text><text x="47" y="94.35">0.8</text><text x="47" y="68.9">1</text><text x="47" y="43.45">1.2</text><text x="47" y="18">1.4</text>
<text x="47" y="377">0</text><text x="47" y="338.9">0.5</text><text x="47" y="300.85">1</text><text x="47" y="262.8">1.5</text><text x="47" y="224.7">2</text>
</g>
<g font-size="8.5" text-anchor="middle">
<text x="50" y="180">0</text><text x="76.4" y="180">10</text><text x="102.8" y="180">20</text><text x="129.2" y="180">30</text><text x="155.6" y="180">40</text><text x="182" y="180">50</text><text x="208.4" y="180">60</text><text x="234.8" y="180">70</text><text x="261.2" y="180">80</text><text x="287.6" y="180">90</text><text x="314" y="180">100</text>
<text x="50" y="386.5">0</text><text x="76.4" y="386.5">10</text><text x="102.8" y="386.5">20</text><text x="129.2" y="386.5">30</text><text x="155.6" y="386.5">40</text><text x="182" y="386.5">50</text><text x="208.4" y="386.5">60</text><text x="234.8" y="386.5">70</text><text x="261.2" y="386.5">80</text><text x="287.6" y="386.5">90</text><text x="314" y="386.5">100</text>
</g>
<g font-size="8" text-anchor="end">
<text x="352.5" y="118.3">0</text><text x="352.5" y="84.9">20</text><text x="352.5" y="51.4">40</text><text x="352.5" y="18">60</text>
<text x="353.5" y="127.3">4.0</text><text x="353.5" y="138.5">2.0</text><text x="353.5" y="149.8">0.0</text><text x="353.5" y="161">-2.0</text><text x="353.5" y="172.3">-4.0</text>
<text x="352.5" y="324.7">0</text><text x="352.5" y="299.5">5</text><text x="352.5" y="274.35">10</text><text x="352.5" y="249.2">15</text><text x="352.5" y="224">20</text>
<text x="353.5" y="334.5">3.0</text><text x="353.5" y="341.9">2.0</text><text x="353.5" y="349.3">1.0</text><text x="353.5" y="356.65">0.0</text><text x="353.5" y="364">-1.0</text><text x="353.5" y="371.4">-2.0</text><text x="353.5" y="378.8">-3.0</text>
</g>
<g font-size="7.6" text-anchor="middle">
<text x="355.7" y="181">0</text><text x="379.8" y="181">1000</text><text x="403.9" y="181">2000</text><text x="428" y="181">3000</text><text x="452.1" y="181">4000</text><text x="476.2" y="181">5000</text><text x="500.2" y="181">6000</text><text x="524.3" y="181">7000</text><text x="548.4" y="181">8000</text><text x="572.5" y="181">9000</text><text x="596.6" y="181">10000</text><text x="620.7" y="181">11000</text>
<text x="355.7" y="388">0</text><text x="379.8" y="388">1000</text><text x="403.9" y="388">2000</text><text x="428" y="388">3000</text><text x="452.1" y="388">4000</text><text x="476.2" y="388">5000</text><text x="500.2" y="388">6000</text><text x="524.3" y="388">7000</text><text x="548.4" y="388">8000</text><text x="572.5" y="388">9000</text><text x="596.6" y="388">10000</text><text x="620.7" y="388">11000</text>
</g>

<!-- ================= AXIS LABELS ================= -->
<g font-size="9.8" text-anchor="middle">
<text x="182.5" y="192">DOC / %</text>
<text x="182.5" y="398.5">DOC / %</text>
<text x="498" y="192.5">FEC</text>
<text x="496" y="400">FEC</text>
</g>
<text transform="translate(25.5,96) rotate(-90)" text-anchor="middle" font-size="11">k<tspan font-size="8.5" dy="2.5">DOC,Q</tspan><tspan font-size="6.5" dy="2">loss</tspan></text>
<text transform="translate(25.5,300) rotate(-90)" text-anchor="middle" font-size="11">k<tspan font-size="8.5" dy="2.5">DOC,R</tspan><tspan font-size="6.5" dy="2">inc</tspan></text>
<text transform="translate(338,63) rotate(-90)" text-anchor="middle" font-size="10">Q<tspan font-size="7.5" dy="2.5">loss,cyc</tspan><tspan dy="-2.5"> / %</tspan></text>
<text transform="translate(338,156) rotate(-90)" text-anchor="middle" font-size="9.5">Abs. model error / %</text>
<text transform="translate(338,268) rotate(-90)" text-anchor="middle" font-size="10">R<tspan font-size="7.5" dy="2.5">inc,cyc</tspan><tspan dy="-2.5"> / %</tspan></text>
<text transform="translate(338,365) rotate(-90)" text-anchor="middle" font-size="9.5">Abs. model error / %</text>

<!-- panel labels -->
<g font-size="10">
<text x="14" y="18.5">(a)</text>
<text x="323" y="18.5">(b)</text>
<text x="14" y="225">(c)</text>
<text x="323.5" y="224.5">(d)</text>
</g>
</svg>
</body></html>
